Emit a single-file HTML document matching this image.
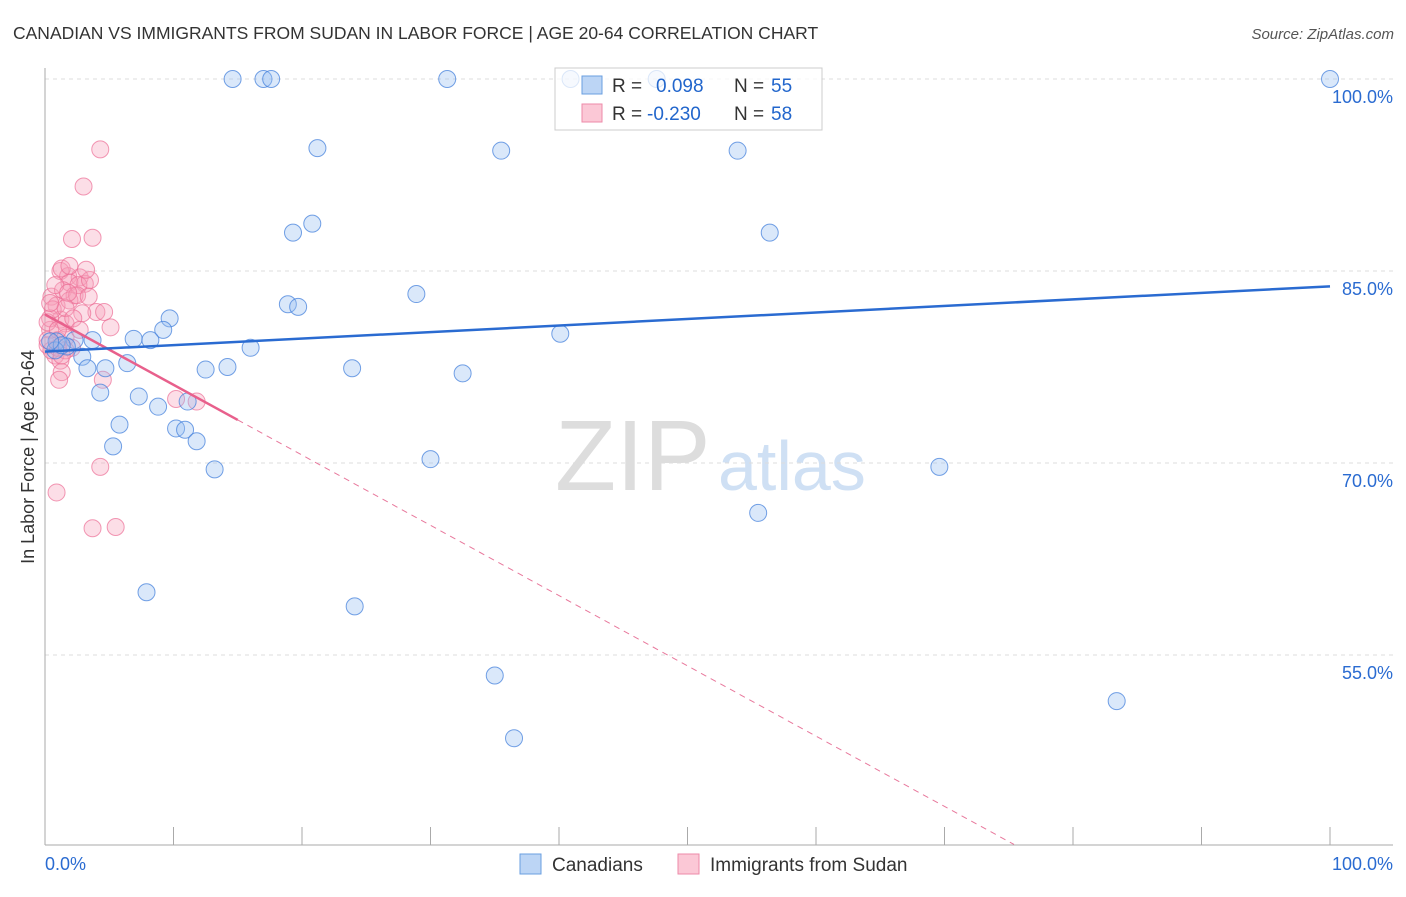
<!DOCTYPE html>
<html><head><meta charset="utf-8"><style>
body{margin:0;background:#fff;font-family:"Liberation Sans",sans-serif;overflow:hidden}
svg text{font-family:"Liberation Sans",sans-serif}
</style></head><body>
<svg id="c" width="1406" height="892">
<text x="13" y="39" font-size="17.5" fill="#333">CANADIAN VS IMMIGRANTS FROM SUDAN IN LABOR FORCE | AGE 20-64 CORRELATION CHART</text>
<text x="1394" y="39" font-size="15" fill="#555" font-style="italic" text-anchor="end">Source: ZipAtlas.com</text>
<g>
<text x="555" y="490" font-size="100" fill="#ddd" font-family="Liberation Serif, serif">ZIP</text>
<text x="718" y="490" font-size="70" fill="#cfe0f4">atlas</text>
</g>
<text transform="translate(34,457) rotate(-90)" font-size="18" fill="#333" text-anchor="middle">In Labor Force | Age 20-64</text>
<g id="grid"></g>
<g id="marks"></g>
<g>
<rect x="555" y="68" width="267" height="62" fill="rgba(255,255,255,0.75)" stroke="#ccc"/>
<rect x="582" y="76" width="20" height="18" fill="#bcd5f5" stroke="#6a9fe0"/>
<text x="612" y="92" font-size="19" fill="#333">R = </text><text x="656" y="92" font-size="19" fill="#2266cc">0.098</text>
<text x="734" y="92" font-size="19" fill="#333">N = </text><text x="771" y="92" font-size="19" fill="#2266cc">55</text>
<rect x="582" y="104" width="20" height="18" fill="#fbc8d6" stroke="#ee8aa8"/>
<text x="612" y="120" font-size="19" fill="#333">R = </text><text x="647" y="120" font-size="19" fill="#2266cc">-0.230</text>
<text x="734" y="120" font-size="19" fill="#333">N = </text><text x="771" y="120" font-size="19" fill="#2266cc">58</text>
</g>
<g>
<rect x="520" y="854" width="21" height="20" fill="#bcd5f5" stroke="#6a9fe0"/>
<text x="552" y="871" font-size="19" fill="#333">Canadians</text>
<rect x="678" y="854" width="21" height="20" fill="#fbc8d6" stroke="#ee8aa8"/>
<text x="710" y="871" font-size="19" fill="#333">Immigrants from Sudan</text>
</g>
</svg>
<script>
const yTicks=[55,70,85,100];
const xTickLabels=["0.0%","100.0%"];
const blueX=[14.6,17.0,17.6,31.3,40.9,47.6,100,21.2,35.5,53.9,20.8,19.3,56.4,18.9,19.7,28.9,40.1,9.7,9.2,6.9,8.2,16.0,0.9,2.3,1.7,2.9,3.3,4.7,6.4,12.5,14.2,23.9,32.5,4.3,7.3,8.8,11.1,5.8,10.2,10.9,11.8,5.3,13.2,30.0,69.6,55.5,7.9,24.1,35.0,83.4,36.5,0.8,1.3,0.4,3.7];
const blueY=[100,100,100,100,100,100,100,94.6,94.4,94.4,88.7,88.0,88.0,82.4,82.2,83.2,80.1,81.3,80.4,79.7,79.6,79.0,79.5,79.6,79.1,78.3,77.4,77.4,77.8,77.3,77.5,77.4,77.0,75.5,75.2,74.4,74.8,73.0,72.7,72.6,71.7,71.3,69.5,70.3,69.7,66.1,59.9,58.8,53.4,51.4,48.5,78.8,79.2,79.5,79.6];
const pinkX=[4.3,3.0,2.1,3.7,1.2,1.8,2.7,3.1,1.9,0.5,1.4,2.3,4.0,2.9,0.9,1.2,4.6,5.1,1.6,0.4,0.2,1.0,1.6,2.1,0.8,1.2,1.3,1.1,4.5,10.2,11.8,4.3,0.9,3.7,5.5,0.4,0.5,1.9,2.6,3.5,1.6,1.0,0.2,0.8,1.3,1.9,3.2,0.2,0.6,2.5,1.6,0.4,1.0,2.2,1.3,1.8,3.4,2.7];
const pinkY=[94.5,91.6,87.5,87.6,85.0,84.6,84.5,84.0,84.1,83.0,83.5,83.1,81.8,81.7,82.3,81.2,81.8,80.6,80.9,80.4,79.2,79.6,79.8,79.0,78.4,78.0,77.1,76.5,76.5,75.0,74.8,69.7,67.7,64.9,65.0,81.3,78.8,82.7,83.9,84.3,78.8,79.0,81.0,83.9,85.2,85.4,85.1,79.6,82.0,83.1,82.1,82.5,80.4,81.3,78.4,83.3,83.0,80.4];
const blueTrend=[78.7,83.8];
const pinkTrend=[81.6,26.7];
const pinkSolidEnd=15;
const yMin=40.2;
const X=v=>45+v*12.85, Y=v=>79+(100-v)*12.8;
const NS="http://www.w3.org/2000/svg";
function mk(t,a,p){const e=document.createElementNS(NS,t);for(const k in a)e.setAttribute(k,a[k]);p.appendChild(e);return e;}
const g=document.getElementById('grid'), m=document.getElementById('marks');
yTicks.forEach(t=>{
 const l=mk('line',{x1:45,x2:1393,y1:Y(t),y2:Y(t),stroke:'#ddd','stroke-dasharray':'4,4'},g);
 
 
 const tx=mk('text',{x:1393,y:Y(t)+24,'font-size':18,fill:'#2a6bd1','text-anchor':'end'},g);
 tx.textContent=t.toFixed(1)+'%';
 
 
});
const ax=mk('line',{x1:45,x2:45,y1:68,y2:845,stroke:'#aaa'},g);


const bx=mk('line',{x1:45,x2:1393,y1:845,y2:845,stroke:'#aaa'},g);


for(let k=0;k<=10;k++){const t=mk('line',{x1:X(k*10),x2:X(k*10),y1:827,y2:845,stroke:'#aaa'},g);
 
 }
const xl0=mk('text',{x:45,y:870,'font-size':18,fill:'#2a6bd1'},g);xl0.textContent=xTickLabels[0];


const xl1=mk('text',{x:1393,y:870,'font-size':18,fill:'#2a6bd1','text-anchor':'end'},g);xl1.textContent=xTickLabels[1];


pinkX.forEach((x,i)=>{const c=mk('circle',{cx:X(x),cy:Y(pinkY[i]),r:8.5,fill:'rgba(246,160,185,0.35)',stroke:'rgba(236,110,150,0.7)','stroke-width':1},m);
 
 });
blueX.forEach((x,i)=>{const c=mk('circle',{cx:X(x),cy:Y(blueY[i]),r:8.5,fill:'rgba(150,190,240,0.35)',stroke:'rgba(70,130,220,0.75)','stroke-width':1},m);
 
 });
const pAt=x=>pinkTrend[0]+(pinkTrend[1]-pinkTrend[0])*x/100;
let xEnd=100;
if(pinkTrend[1]<yMin){xEnd=100*(yMin-pinkTrend[0])/(pinkTrend[1]-pinkTrend[0]);}
const pd=mk('line',{x1:X(pinkSolidEnd),y1:Y(pAt(pinkSolidEnd)),x2:X(xEnd),y2:Y(pAt(xEnd)),stroke:'#e8789c','stroke-width':1,'stroke-dasharray':'6,5'},m);


const ps=mk('line',{x1:X(0),y1:Y(pinkTrend[0]),x2:X(pinkSolidEnd),y2:Y(pAt(pinkSolidEnd)),stroke:'#e8608c','stroke-width':2.5},m);


const bt=mk('line',{x1:X(0),y1:Y(blueTrend[0]),x2:X(100),y2:Y(blueTrend[1]),stroke:'#2a6bd1','stroke-width':2.5},m);


</script>
</body></html>
